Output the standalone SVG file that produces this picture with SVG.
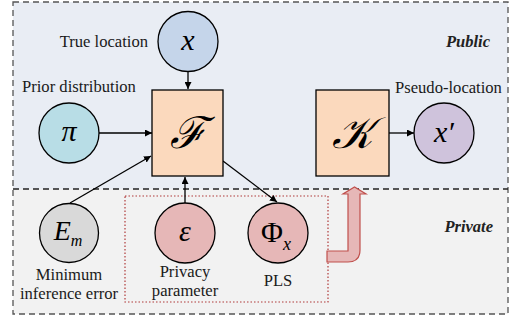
<svg xmlns="http://www.w3.org/2000/svg" width="513" height="320" viewBox="0 0 513 320">
<defs>
<marker id="ah" viewBox="0 0 10 10" refX="10" refY="5" markerWidth="7" markerHeight="7" markerUnits="userSpaceOnUse" orient="auto">
<path d="M0,0 L10,5 L0,10 z" fill="#000"/>
</marker>
<style>
text{font-family:"Liberation Serif","Times New Roman",serif}
.lbl{font-size:16.6px;fill:#1a1a1a}
.reg{font-size:16.5px;font-weight:bold;font-style:italic;fill:#222}
.math{font-style:italic;fill:#000}
.node{stroke:#000;stroke-width:1.3}
.conn{stroke:#000;stroke-width:1.3;fill:none;marker-end:url(#ah)}
</style>
</defs>
<g id="regions">
<rect x="13" y="2" width="495" height="187" fill="#e9edf4"/>
<rect x="13" y="189" width="495" height="125" fill="#f2f2f2"/>
<rect x="13" y="2" width="495" height="312" fill="none" stroke="#555" stroke-width="1.3" stroke-dasharray="6,4"/>
<line x1="13" y1="189" x2="508" y2="189" stroke="#222" stroke-width="1.3" stroke-dasharray="6,4"/>
<rect x="125" y="196" width="203" height="106" fill="none" stroke="#b03a3a" stroke-width="1.2" stroke-dasharray="1.5,2"/>
<text class="reg" x="490" y="47" text-anchor="end">Public</text>
<text class="reg" x="493" y="232" text-anchor="end">Private</text>
</g>
<g id="connectors">
<line class="conn" x1="188" y1="71" x2="188" y2="89"/>
<line class="conn" x1="99" y1="133" x2="152" y2="133"/>
<line class="conn" x1="70" y1="203" x2="151" y2="156"/>
<line class="conn" x1="185" y1="203" x2="185" y2="177"/>
<line class="conn" x1="223" y1="161" x2="277" y2="202"/>
<line class="conn" x1="389" y1="133" x2="414" y2="133"/>
<path d="M327,251 L348,251 L348,194 L343,194 L354.5,187 L366,194 L360,194 L360,250 Q360,262 348,262 L327,262 Z" fill="#e6b7b7" stroke="#c0504d" stroke-width="1.2"/>
</g>
<g id="node-x">
<circle class="node" cx="188" cy="41.5" r="30" fill="#c5d5ea"/>
<text class="math" x="188" y="50" font-size="30" text-anchor="middle">x</text>
<text class="lbl" x="148" y="47" text-anchor="end">True location</text>
</g>
<g id="node-pi">
<circle class="node" cx="69" cy="133" r="30" fill="#b8dde6"/>
<text class="math" x="69" y="141" font-size="30" text-anchor="middle">π</text>
<text class="lbl" x="22" y="92">Prior distribution</text>
</g>
<g id="node-F">
<rect class="node" x="152" y="90" width="71" height="86" fill="#fbd9bd"/>
<text class="math" x="187.5" y="148" font-size="44" text-anchor="middle">ℱ</text>
</g>
<g id="node-K">
<rect class="node" x="316" y="90" width="73" height="86" fill="#fbd9bd"/>
<text class="math" x="352.5" y="148" font-size="44" text-anchor="middle">𝒦</text>
</g>
<g id="node-xp">
<circle class="node" cx="444" cy="133" r="30" fill="#cfc3dc"/>
<text class="math" x="444" y="142" font-size="30" text-anchor="middle">x′</text>
<text class="lbl" x="395" y="93">Pseudo-location</text>
</g>
<g id="node-Em">
<circle class="node" cx="69" cy="233" r="29.5" fill="#d9d9d9"/>
<text class="math" x="68" y="240" font-size="28" text-anchor="middle">E<tspan font-size="16" dy="6">m</tspan></text>
<text class="lbl" x="69" y="280" text-anchor="middle">Minimum</text>
<text class="lbl" x="69" y="299" text-anchor="middle">inference error</text>
</g>
<g id="node-eps">
<circle class="node" cx="185" cy="233" r="30" fill="#e6b7b7"/>
<text class="math" x="185" y="241" font-size="30" text-anchor="middle">ε</text>
<text class="lbl" x="185" y="277" text-anchor="middle">Privacy</text>
<text class="lbl" x="185" y="296" text-anchor="middle">parameter</text>
</g>
<g id="node-Phi">
<circle class="node" cx="278" cy="233" r="30" fill="#e6b7b7"/>
<text x="276" y="242" font-size="30" text-anchor="middle" fill="#000">Φ<tspan class="math" font-size="18" dy="8">x</tspan></text>
<text class="lbl" x="278" y="286" text-anchor="middle">PLS</text>
</g>
</svg>
